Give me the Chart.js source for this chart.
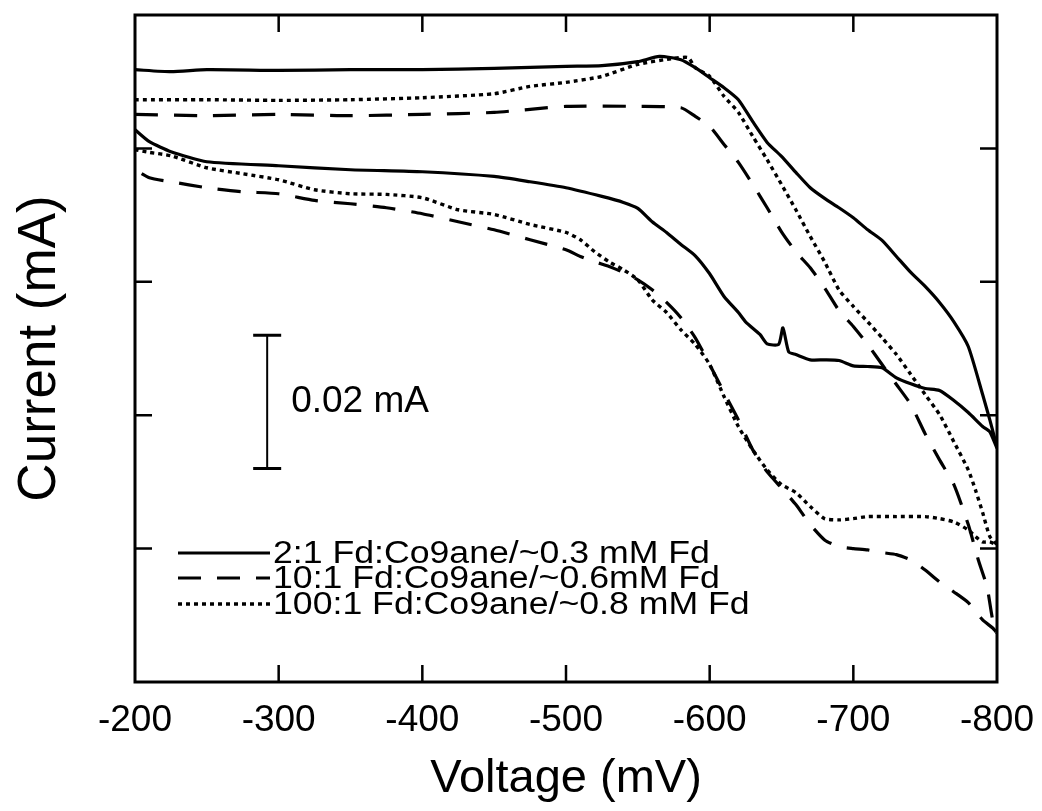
<!DOCTYPE html>
<html>
<head>
<meta charset="utf-8">
<title>Current vs Voltage</title>
<script src="https://cdn.jsdelivr.net/npm/chart.js@4.4.1/dist/chart.umd.min.js"></script>
<style>
  html, body { margin: 0; padding: 0; background: #fff; }
  #wrap { width: 1042px; height: 811px; }
</style>
</head>
<body>
<div id="wrap"><canvas id="cvChart"></canvas></div>
<script>
// -- Data (voltage in mV, current in uA on an arbitrary offset; y labels are hidden) --
var X_TICKS = [-200, -300, -400, -500, -600, -700, -800];
var Y_TICKS = [20, 40, 60, 80];

// 2:1 Fd:Co9ane, outgoing branch (upper) and return branch (lower)
var v21Out = [-200, -225, -250, -300, -350, -400, -450, -500, -525, -550, -565, -580, -590, -600, -610, -620, -630, -640, -650, -660, -670, -680, -690, -700, -710, -720, -730, -740, -750, -760, -770, -780, -790, -795, -800];
var i21Out = [91.8, 91.5, 91.8, 91.7, 91.8, 91.8, 92.0, 92.3, 92.4, 93.0, 93.8, 93.3, 92.1, 90.6, 89.1, 87.3, 84.0, 80.9, 78.8, 76.4, 74.1, 72.5, 71.1, 69.6, 67.8, 66.2, 63.8, 61.4, 59.3, 56.9, 54.0, 50.3, 43.1, 39.3, 35.1];
var v21Back = [-795, -790, -780, -770, -760, -750, -740, -730, -720, -710, -700, -690, -680, -670, -660, -655, -651, -648, -640, -635, -625, -620, -610, -600, -590, -580, -570, -560, -550, -540, -525, -500, -475, -450, -400, -350, -300, -250, -225, -210, -200];
var i21Back = [37.5, 38.3, 40.4, 42.2, 43.7, 44.0, 44.7, 45.6, 47.1, 47.3, 47.4, 48.2, 48.3, 48.3, 49.1, 49.5, 53.1, 50.6, 50.7, 52.1, 54.0, 55.4, 57.8, 61.2, 63.9, 65.6, 67.4, 69.0, 71.0, 71.9, 72.8, 74.1, 75.0, 75.8, 76.5, 76.8, 77.4, 78.0, 79.5, 81.0, 82.8];

// 10:1 Fd:Co9ane
var v101Out = [-200, -250, -300, -350, -400, -450, -500, -550, -580, -590, -600, -610, -620, -630, -640, -650, -660, -670, -680, -690, -700, -710, -720, -730, -740, -750, -760, -770, -780, -787, -793, -797, -800];
var i101Out = [85.1, 84.9, 85.1, 84.9, 85.1, 85.4, 86.3, 86.3, 86.1, 84.8, 83.3, 80.6, 77.9, 74.6, 71.1, 67.5, 64.5, 62.1, 59.1, 55.7, 53.3, 50.6, 47.6, 44.6, 41.6, 37.2, 33.3, 29.6, 23.6, 18.3, 14.3, 9.3, 7.4];
var v101Back = [-797, -790, -780, -770, -760, -750, -740, -730, -720, -710, -700, -690, -680, -670, -665, -660, -650, -640, -630, -620, -610, -600, -590, -580, -570, -560, -550, -540, -530, -520, -510, -500, -475, -450, -425, -400, -375, -350, -325, -300, -275, -250, -225, -210, -200];
var i101Back = [8.1, 9.3, 11.9, 13.5, 15.0, 16.8, 18.3, 19.1, 19.4, 19.8, 20.0, 20.3, 21.3, 23.6, 25.1, 26.6, 29.1, 31.5, 34.8, 39.3, 43.4, 47.6, 51.6, 54.6, 56.9, 58.8, 60.3, 61.4, 62.3, 63.0, 63.8, 64.8, 66.3, 67.8, 69.0, 70.2, 71.1, 71.7, 72.2, 73.2, 73.5, 74.1, 75.0, 75.6, 76.8];

// 100:1 Fd:Co9ane
var v1001Out = [-200, -250, -300, -350, -400, -450, -475, -500, -525, -550, -575, -585, -590, -600, -610, -620, -630, -640, -650, -660, -670, -680, -690, -700, -710, -720, -730, -740, -750, -760, -770, -780, -785, -790, -795, -800];
var i1001Out = [87.3, 87.3, 87.2, 87.3, 87.6, 88.2, 89.3, 89.9, 90.8, 92.6, 93.5, 93.6, 92.1, 90.8, 87.8, 85.4, 81.8, 78.3, 74.6, 70.8, 66.8, 63.0, 58.8, 56.3, 54.0, 51.6, 49.1, 46.1, 43.1, 40.1, 36.0, 31.8, 28.8, 25.4, 21.8, 20.6];
var v1001Back = [-795, -790, -785, -780, -770, -760, -750, -730, -710, -700, -690, -680, -670, -660, -650, -640, -630, -620, -610, -600, -590, -580, -570, -560, -550, -540, -530, -520, -510, -500, -475, -450, -425, -400, -375, -350, -325, -300, -275, -250, -225, -210, -200];
var i1001Back = [21.0, 21.0, 21.8, 22.8, 24.0, 24.5, 24.8, 24.8, 24.8, 24.5, 24.3, 24.5, 26.3, 28.4, 29.6, 31.8, 34.8, 38.3, 42.8, 47.6, 50.6, 52.8, 55.4, 57.3, 60.3, 61.8, 63.0, 64.5, 66.3, 67.4, 68.6, 70.1, 70.8, 72.6, 73.1, 73.2, 73.8, 75.3, 76.2, 77.1, 78.9, 79.4, 79.8];

var SERIES_LABELS = [
  '2:1 Fd:Co9ane/~0.3 mM Fd',
  '10:1 Fd:Co9ane/~0.6mM Fd',
  '100:1 Fd:Co9ane/~0.8 mM Fd'
];

// scale bar: 0.02 mA = 20 uA
var SCALE_BAR_V = -292;
var SCALE_BAR_I = [32, 52];
var SCALE_BAR_TEXT = '0.02 mA';

(function () {
  'use strict';

  var FONT = "'Liberation Sans', Arial, Helvetica, sans-serif";
  Chart.defaults.font.family = FONT;
  Chart.defaults.color = '#000';

  function loop(vA, iA, vB, iB) {
    var pts = vA.map(function (v, k) { return { x: v, y: iA[k] }; });
    return pts.concat(vB.map(function (v, k) { return { x: v, y: iB[k] }; }));
  }

  function lineSet(label, data, dash, width) {
    return {
      label: label,
      data: data,
      showLine: true,
      borderColor: '#000',
      borderWidth: width,
      borderDash: dash,
      pointRadius: 0,
      tension: 0.2,
      fill: false
    };
  }

  // -- Frame, inner ticks, scale bar and legend --
  var decorPlugin = {
    id: 'decor',
    afterDatasetsDraw: function (chart) {
      var ctx = chart.ctx;
      var a = chart.chartArea;
      var xs = chart.scales.x, ys = chart.scales.y;
      var TL = 17;
      ctx.save();
      ctx.strokeStyle = '#000';
      ctx.lineWidth = 3;
      ctx.strokeRect(a.left, a.top, a.right - a.left, a.bottom - a.top);

      ctx.lineWidth = 2.5;
      ctx.beginPath();
      X_TICKS.slice(1, -1).forEach(function (v) {
        var px = xs.getPixelForValue(v);
        ctx.moveTo(px, a.bottom); ctx.lineTo(px, a.bottom - TL);
        ctx.moveTo(px, a.top); ctx.lineTo(px, a.top + TL);
      });
      Y_TICKS.forEach(function (v) {
        var py = ys.getPixelForValue(v);
        ctx.moveTo(a.left, py); ctx.lineTo(a.left + TL, py);
        ctx.moveTo(a.right, py); ctx.lineTo(a.right - TL, py);
      });
      ctx.stroke();

      // scale bar
      var bx = xs.getPixelForValue(SCALE_BAR_V);
      var by0 = ys.getPixelForValue(SCALE_BAR_I[0]);
      var by1 = ys.getPixelForValue(SCALE_BAR_I[1]);
      ctx.lineWidth = 2;
      ctx.beginPath();
      ctx.moveTo(bx, by0); ctx.lineTo(bx, by1);
      ctx.stroke();
      ctx.lineWidth = 3;
      ctx.beginPath();
      ctx.moveTo(bx - 14, by0); ctx.lineTo(bx + 14, by0);
      ctx.moveTo(bx - 14, by1); ctx.lineTo(bx + 14, by1);
      ctx.stroke();
      ctx.fillStyle = '#000';
      ctx.font = '37px ' + FONT;
      ctx.textAlign = 'left';
      ctx.textBaseline = 'middle';
      ctx.fillText(SCALE_BAR_TEXT, bx + 24, (by0 + by1) / 2);

      // legend
      var lx0 = a.left + 43, lx1 = a.left + 135;
      var rowY = [a.bottom - 129, a.bottom - 104, a.bottom - 78];
      chart.data.datasets.forEach(function (ds, k) {
        var y = rowY[k];
        ctx.save();
        ctx.lineWidth = ds.borderWidth;
        ctx.setLineDash(ds.borderDash || []);
        ctx.beginPath();
        ctx.moveTo(lx0, y); ctx.lineTo(lx1, y);
        ctx.stroke();
        ctx.restore();
        ctx.save();
        ctx.translate(lx1 + 3, y);
        ctx.scale(1.15, 1);
        ctx.font = '31px ' + FONT;
        ctx.textAlign = 'left';
        ctx.textBaseline = 'middle';
        ctx.fillText(ds.label, 0, 1);
        ctx.restore();
      });
      ctx.restore();
    }
  };

  new Chart(document.getElementById('cvChart'), {
    type: 'scatter',
    data: {
      datasets: [
        lineSet(SERIES_LABELS[0], loop(v21Out, i21Out, v21Back, i21Back), [], 3.2),
        lineSet(SERIES_LABELS[1], loop(v101Out, i101Out, v101Back, i101Back), [23, 16], 3.2),
        lineSet(SERIES_LABELS[2], loop(v1001Out, i1001Out, v1001Back, i1001Back), [4, 4], 3.4)
      ]
    },
    options: {
      responsive: true,
      maintainAspectRatio: false,
      animation: false,
      layout: { padding: { top: 15, right: 45, left: 0, bottom: 0 } },
      plugins: {
        legend: { display: false },
        tooltip: { enabled: false }
      },
      scales: {
        x: {
          type: 'linear',
          reverse: true,
          min: -800,
          max: -200,
          grid: { display: false, drawTicks: false },
          border: { display: false },
          afterFit: function (s) {
            s.height = 129;
            s.paddingLeft = 0;
            s.paddingRight = 0;
          },
          afterBuildTicks: function (s) {
            s.ticks = X_TICKS.map(function (v) { return { value: v }; });
          },
          ticks: { padding: 17, font: { size: 37 }, color: '#000' },
          title: {
            display: true,
            text: 'Voltage (mV)',
            font: { size: 47 },
            color: '#000',
            padding: { top: 0, bottom: 4 }
          }
        },
        y: {
          type: 'linear',
          min: 0,
          max: 100,
          grid: { display: false, drawTicks: false },
          border: { display: false },
          afterFit: function (s) { s.width = 135; },
          ticks: { display: false },
          title: {
            display: true,
            text: 'Current (mA)',
            font: { size: 53 },
            color: '#000',
            padding: { top: 9, bottom: 0 }
          }
        }
      }
    },
    plugins: [decorPlugin]
  });
})();
</script>
</body>
</html>
